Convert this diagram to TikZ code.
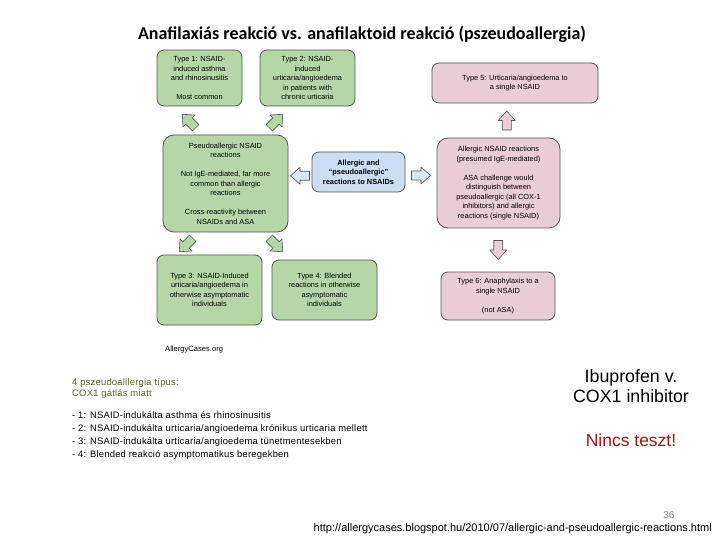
\documentclass[tikz,border=0pt]{standalone}
\usepackage{fontspec}
\setmainfont{Liberation Sans}
\newfontfamily\titlefont{Carlito}
\newfontfamily\notefont[LetterSpace=2.5]{Liberation Sans}
\usepackage{xcolor}
\usetikzlibrary{calc,positioning}
\definecolor{boxgreen}{RGB}{183,214,168}
\definecolor{boxblue}{RGB}{205,222,242}
\definecolor{boxpink}{RGB}{233,205,215}
\definecolor{boxline}{RGB}{80,88,82}
\definecolor{olive}{RGB}{94,100,42}
\definecolor{darkred}{RGB}{160,22,22}
\colorlet{pagenum}{black!45}
\tikzset{
  card/.style={draw=boxline, line width=0.8pt, rounded corners=7pt, align=center,
    font=\fontsize{7.4}{9.5}\selectfont, inner sep=1pt},
  greencard/.style={card, fill=boxgreen},
  bluecard/.style={card, fill=boxblue, font=\fontsize{7.4}{9.5}\selectfont\bfseries},
  pinkcard/.style={card, fill=boxpink},
  fatarrow/.pic={
    \draw[pic actions, draw=boxline, line width=0.6pt, line join=round]
      (-9.5,-4.5) -- (0,-4.5) -- (0,-8.5) -- (9.5,0) -- (0,8.5) -- (0,4.5) -- (-9.5,4.5) -- cycle;
  },
}

\begin{document}
\begin{tikzpicture}[x=1pt, y=-1pt]
  \useasboundingbox[fill=white] (0,0) rectangle (720,540);
  \node[anchor=base, font=\titlefont\bfseries\fontsize{18}{20}\selectfont] (title) at (362,40)
    {Anafilaxiás reakció vs. anafilaktoid reakció (pszeudoallergia)};
  % left branch: pseudoallergic
  \node[greencard, minimum width=85pt, minimum height=56pt] (type1) at (199.5,78)
    {Type 1: NSAID-\\induced asthma\\and rhinosinusitis\\[9.5pt]Most common};
  \node[greencard, minimum width=95pt, minimum height=56pt] (type2) at (307.5,78)
    {Type 2: NSAID-\\induced\\urticaria/angioedema\\in patients with\\chronic urticaria};
  \node[greencard, rounded corners=11pt, minimum width=125pt, minimum height=97pt] (pseudo) at (225.5,183.5)
    {Pseudoallergic NSAID\\reactions\\[9.5pt]Not IgE-mediated, far more\\common than allergic\\reactions\\[9.5pt]Cross-reactivity between\\NSAIDs and ASA};
  \node[greencard, minimum width=105pt, minimum height=70pt] (type3) at (209.5,290)
    {Type 3: NSAID-Induced\\urticaria/angioedema in\\otherwise asymptomatic\\individuals};
  \node[greencard, minimum width=105pt, minimum height=60pt] (type4) at (324.5,290)
    {Type 4: Blended\\reactions in otherwise\\asymptomatic\\individuals};
  % middle
  \node[bluecard, minimum width=93pt, minimum height=40pt] (both) at (358.5,172)
    {Allergic and\\``pseudoallergic''\\reactions to NSAIDs};
  % right branch: allergic
  \node[pinkcard, minimum width=166pt, minimum height=40pt] (type5) at (515,83)
    {Type 5: Urticaria/angioedema to\\a single NSAID};
  \node[pinkcard, rounded corners=11pt, minimum width=123pt, minimum height=90pt] (allergic) at (498.5,183)
    {Allergic NSAID reactions\\(presumed IgE-mediated)\\[9.5pt]ASA challenge would\\distinguish between\\pseudoallergic (all COX-1\\inhibitors) and allergic\\reactions (single NSAID)};
  \node[pinkcard, minimum width=114pt, minimum height=48pt] (type6) at (498,296)
    {Type 6: Anaphylaxis to a\\single NSAID\\[9.5pt](not ASA)};
  % block arrows
  \pic[fill=boxgreen, rotate=135] (toT1) at (189,121) {fatarrow};
  \pic[fill=boxgreen, rotate=45] (toT2) at (276,121) {fatarrow};
  \pic[fill=boxgreen, rotate=225] (toT3) at (186,245) {fatarrow};
  \pic[fill=boxgreen, rotate=-45] (toT4) at (276,245) {fatarrow};
  \pic[fill=boxblue!70, rotate=180] (toPseudo) at ($(pseudo.east)!0.5!(both.west)+(0,-2)$) {fatarrow};
  \pic[fill=boxblue!70] (toAllergic) at ($(both.east)!0.5!(allergic.west)+(0,-2)$) {fatarrow};
  \pic[fill=boxpink, rotate=90] (toT5) at ($(type5.south)!0.5!(allergic.north)$) {fatarrow};
  \pic[fill=boxpink, rotate=-90] (toT6) at ($(allergic.south)!0.5!(type6.north)$) {fatarrow};
  \node[anchor=base west, inner sep=0pt, font=\fontsize{7.6}{9}\selectfont] (source) at (165,351) {AllergyCases.org};
  % notes below
  \node[anchor=base west, align=left, inner sep=0pt, olive, font=\notefont\fontsize{9.4}{11}\selectfont] (types) at (72,396)
    {4 pszeudoalllergia típus:\\COX1 gátlás miatt};
  \foreach \t [count=\i] in {- 1: NSAID-indukálta asthma és rhinosinusitis,
      - 2: NSAID-indukálta urticaria/angioedema krónikus urticaria mellett,
      - 3: NSAID-indukálta urticaria/angioedema tünetmentesekben,
      - 4: Blended reakció asymptomatikus beregekben}
    \node[anchor=base west, inner sep=0pt, font=\notefont\fontsize{9.4}{11}\selectfont] (item\i) at (72,405+13*\i) {\t};
  \node[anchor=base, align=center, font=\fontsize{17.8}{20}\selectfont] (ibu) at (631,402)
    {Ibuprofen v.\\COX1 inhibitor};
  \node[anchor=base, darkred, font=\fontsize{17.5}{20}\selectfont] (noTest) at (631,446) {Nincs teszt!};
  \node[anchor=base east, pagenum, font=\fontsize{10}{12}\selectfont] (pageNo) at (678,518) {36};
  \node[anchor=base east, font=\fontsize{11}{12}\selectfont, inner sep=0pt] (url) at (712,531)
    {http://allergycases.blogspot.hu/2010/07/allergic-and-pseudoallergic-reactions.html};
\end{tikzpicture}
\end{document}
